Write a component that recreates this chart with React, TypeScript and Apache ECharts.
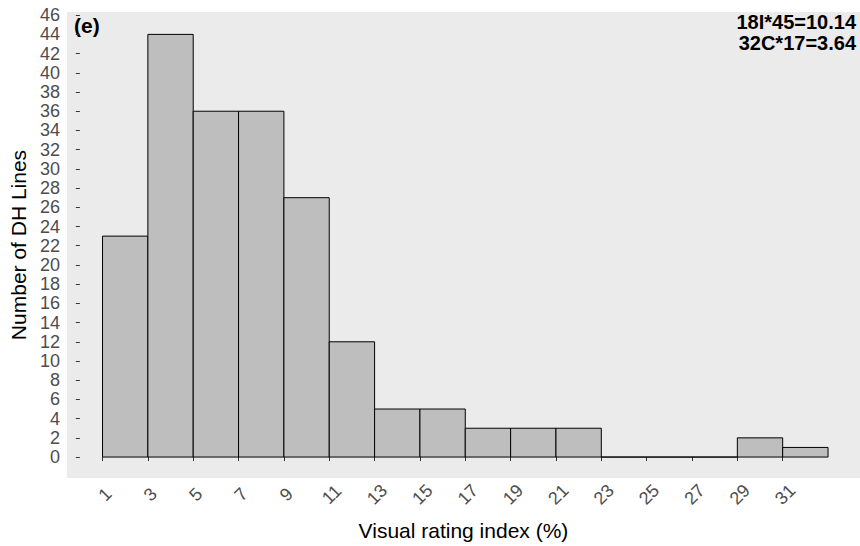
import React, { useEffect, useRef } from "react";
import * as echarts from "echarts";

// Histogram bins (left edge of each 2-unit bin) and counts of DH lines
const binStarts = [1, 3, 5, 7, 9, 11, 13, 15, 17, 19, 21, 23, 25, 27, 29, 31];
const binWidth = 2;
const counts = [23, 44, 36, 36, 27, 12, 5, 5, 3, 3, 3, 0, 0, 0, 2, 1];

// Axis breaks
const xTicks = [1, 3, 5, 7, 9, 11, 13, 15, 17, 19, 21, 23, 25, 27, 29, 31];
const yTicks = [0, 2, 4, 6, 8, 10, 12, 14, 16, 18, 20, 22, 24, 26, 28, 30, 32, 34, 36, 38, 40, 42, 44, 46];

const panelLabel = "(e)";
const annotations = ["18I*45=10.14", "32C*17=3.64"];

const FONT = "'Liberation Sans', Arial, sans-serif";

export default function App() {
  const ref = useRef<HTMLDivElement>(null);

  useEffect(() => {
    if (!ref.current) return;
    const chart = echarts.init(ref.current, null, { renderer: "svg" });

    const histData = binStarts.map((s, i) => [s, s + binWidth, counts[i]]);

    chart.setOption({
      animation: false,
      backgroundColor: "#ffffff",
      textStyle: { fontFamily: FONT },
      grid: {
        left: 66.7,
        top: 12,
        right: 0,
        bottom: 67.3,
        show: true,
        backgroundColor: "#EBEBEB",
        borderWidth: 0,
      },
      xAxis: {
        type: "value",
        min: -0.57,
        max: 34.41,
        name: "Visual rating index (%)",
        nameLocation: "middle",
        nameGap: 42,
        nameTextStyle: { color: "#000", fontSize: 21, fontFamily: FONT },
        axisLine: { show: false },
        splitLine: { show: false },
        axisTick: {
          show: true,
          inside: false,
          length: 4,
          lineStyle: { color: "#333", width: 1 },
          customValues: xTicks,
        },
        axisLabel: {
          customValues: xTicks,
          rotate: 45,
          align: "center",
          verticalAlign: "middle",
          margin: 19,
          padding: [7, 0, 0, 7],
          color: "#4D4D4D",
          fontSize: 18,
          fontFamily: FONT,
        },
      },
      yAxis: {
        type: "value",
        min: -2.18,
        max: 46.33,
        name: "Number of DH Lines",
        nameLocation: "middle",
        nameGap: 32,
        nameTextStyle: { color: "#000", fontSize: 21, fontFamily: FONT },
        axisLine: { show: false },
        splitLine: { show: false },
        axisTick: {
          show: true,
          inside: false,
          length: 4,
          lineStyle: { color: "#333", width: 1 },
          customValues: yTicks,
        },
        axisLabel: {
          customValues: yTicks,
          margin: 7,
          color: "#4D4D4D",
          fontSize: 18,
          fontFamily: FONT,
        },
      },
      series: [
        {
          type: "custom",
          data: histData,
          encode: { x: [0, 1], y: 2 },
          renderItem: (params: any, api: any) => {
            const x0 = api.value(0);
            const x1 = api.value(1);
            const y = api.value(2);
            const p0 = api.coord([x0, y]);
            const p1 = api.coord([x1, 0]);
            return {
              type: "rect",
              shape: {
                x: p0[0],
                y: p0[1],
                width: p1[0] - p0[0],
                height: p1[1] - p0[1],
              },
              style: { fill: "#BEBEBE", stroke: "#000", lineWidth: 1 },
            };
          },
        },
      ],
      graphic: [
        {
          type: "text",
          left: 74,
          top: 15,
          style: {
            text: panelLabel,
            fill: "#000",
            font: `bold 21px ${FONT}`,
          },
        },
        ...annotations.map((t, i) => ({
          type: "text",
          right: 4,
          top: 12 + i * 20.5,
          style: {
            text: t,
            fill: "#000",
            font: `bold 20px ${FONT}`,
            align: "right",
          },
        })),
      ],
    });

    return () => chart.dispose();
  }, []);

  return (
    <div
      ref={ref}
      style={{ position: "fixed", left: 0, top: 0, width: 860, height: 546 }}
    />
  );
}
